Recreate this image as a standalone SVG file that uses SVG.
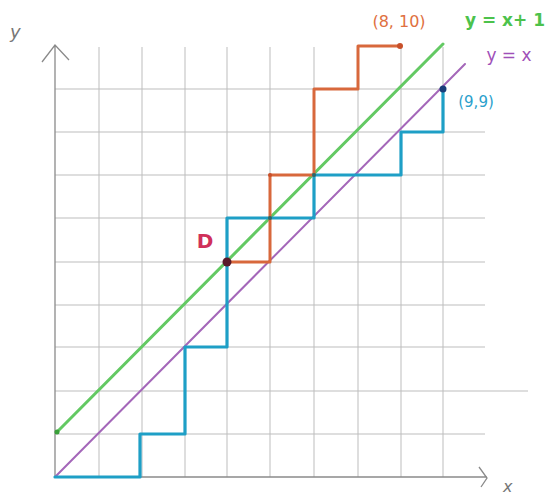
<svg xmlns="http://www.w3.org/2000/svg" width="553" height="495" viewBox="0 0 553 495">
<style>
.grid{stroke:#bdbdbd;stroke-width:1;fill:none}
.axis{stroke:#8a8a8a;stroke-width:1.3;fill:none}
.orange{stroke:#d8683c;stroke-width:3;fill:none;stroke-linejoin:round;stroke-linecap:round}
.blue{stroke:#1e9fc6;stroke-width:3.2;fill:none;stroke-linejoin:round;stroke-linecap:round}
.green{stroke:#63c963;stroke-width:3;fill:none;stroke-linecap:round}
.purple{stroke:#a467b9;stroke-width:2;fill:none;stroke-linecap:round}
text{font-family:"DejaVu Sans","Liberation Sans",sans-serif}
</style>
<rect width="553" height="495" fill="#ffffff"/>
<g id="grid">
<path class="grid" d="M99 47V477M142 47V477M185 47V477M227 47V477M270 47V477M314 47V477M358 47V477M401 47V477M443 47V477"/>
<path class="grid" d="M55 89H443M55 132H485M55 175H485M55 218H485M55 262H485M55 305H485M55 347H485M55 391H528M55 434H485"/>
</g>
<g id="axes">
<path class="axis" d="M55 477V45M42 62L55 45L69 60"/>
<path class="axis" d="M55 477H487M479 467L487 478L481 487"/>
<text x="10" y="38" font-size="18" fill="#777" font-style="italic">y</text>
<text x="503" y="492" font-size="16" fill="#777" font-style="italic">x</text>
</g>
<g id="connectors">
<line id="line-y-x1" class="green" x1="57" y1="432" x2="443" y2="44"/>
<line id="line-y-x" class="purple" x1="55" y1="477" x2="465" y2="64"/>
<path id="path-blue" class="blue" d="M55 477H140V434H185V347H227V218H314V175H401V132H443V89"/>
<path id="path-orange" class="orange" d="M227 262H270V175H314V89H358V46H400"/>
</g>
<g id="node-D">
<circle cx="227" cy="262" r="4.5" fill="#5a1a2a"/>
<text x="205" y="248" font-size="20" font-weight="bold" fill="#d0305a" text-anchor="middle">D</text>
</g>
<g id="node-8-10">
<circle cx="400" cy="46" r="3" fill="#c8502a"/>
<text x="399" y="27" font-size="16" fill="#e07040" text-anchor="middle">(8, 10)</text>
</g>
<g id="node-9-9">
<circle cx="443" cy="89" r="3.5" fill="#1a3e7a"/>
<text x="476" y="107" font-size="15" fill="#2aa0cc" text-anchor="middle">(9,9)</text>
</g>
<g id="label-green">
<text x="505" y="26" font-size="17" font-weight="bold" fill="#4cc24c" text-anchor="middle">y = x+ 1</text>
</g>
<g id="label-purple">
<text x="509" y="61" font-size="17" fill="#a050b8" text-anchor="middle">y = x</text>
</g>
<g id="dots">
<circle cx="57" cy="432" r="2.5" fill="#3aa03a"/>
<circle cx="270" cy="175" r="2" fill="#c8502a"/>
<circle cx="270" cy="218" r="2" fill="#2a6a6a"/>
<circle cx="314" cy="175" r="2" fill="#2a6a6a"/>
</g>
</svg>
